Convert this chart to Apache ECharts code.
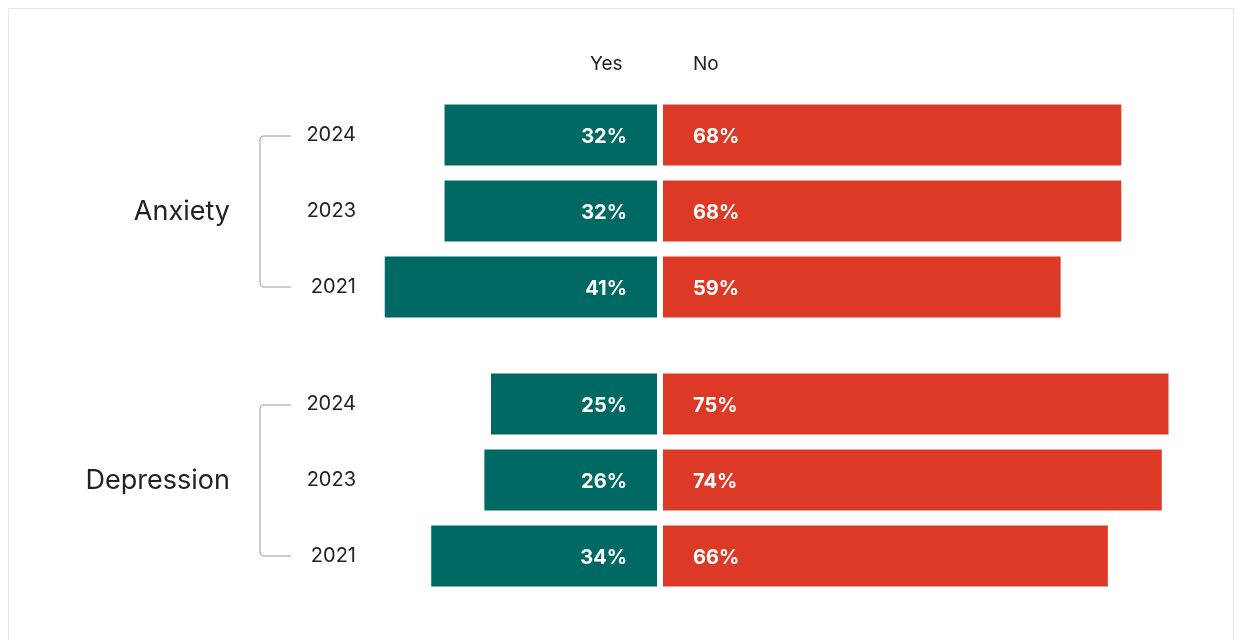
<!DOCTYPE html>
<html>
<head>
<meta charset="utf-8">
<script src="https://cdn.jsdelivr.net/npm/echarts@6/dist/echarts.min.js"></script>
<style>
  body { margin: 0; background: #fff; }
  .frame {
    position: absolute;
    left: 8px;
    top: 8px;
    width: 1226px;
    height: 660px;
    border: 1px solid #e6e6e6;
    box-sizing: border-box;
  }
  #chart { position: absolute; left: 0; top: 0; width: 1235px; height: 641px; }
</style>
</head>
<body>
<div class="frame"></div>
<div id="chart"></div>
<script>
// data
const years = ["2024", "2023", "2021"];
const groups = ["Anxiety", "Depression"];
const anxietyYes = [32, 32, 41];
const anxietyNo = [68, 68, 59];
const depressionYes = [25, 26, 34];
const depressionNo = [75, 74, 66];

const font = "Inter, 'Noto Sans', sans-serif";
const teal = "#006963";
const red = "#dc3a27";
const yesScale = 6.64;
const noScale = 6.74;

// grids: yes side ends at 657, no side starts at 663
const yesLeft = 370, yesRight = 1235 - 657;
const noLeft = 663, noRight = 36;
const yesMax = (1235 - yesRight - yesLeft) / yesScale;
const noMax = (1235 - noRight - noLeft) / noScale;
const groupTops = [97, 366];
const groupH = 228;

const myChart = echarts.init(document.getElementById("chart"));

const grid = [], xAxis = [], yAxis = [], series = [];
const groupData = [[anxietyYes, anxietyNo], [depressionYes, depressionNo]];

const barLabel = {
  show: true, distance: 30, offset: [0, 2], formatter: "{c}%",
  color: "#fff", fontSize: 20, fontWeight: "bold", fontFamily: font
};

groupData.forEach((pair, g) => {
  grid.push({ left: yesLeft, right: yesRight, top: groupTops[g], height: groupH });
  grid.push({ left: noLeft, right: noRight, top: groupTops[g], height: groupH });
  const gy = g * 2, gn = g * 2 + 1;
  xAxis.push({ gridIndex: gy, type: "value", min: 0, max: yesMax, inverse: true, show: false });
  xAxis.push({ gridIndex: gn, type: "value", min: 0, max: noMax, show: false });
  yAxis.push({
    gridIndex: gy, type: "category", data: years, inverse: true,
    axisLine: { show: false }, axisTick: { show: false },
    axisLabel: { margin: 14, fontSize: 20, color: "#222", fontFamily: font, padding: [4, 0, 0, 0] }
  });
  yAxis.push({ gridIndex: gn, type: "category", data: years, inverse: true, show: false });
  series.push({
    type: "bar", xAxisIndex: gy, yAxisIndex: gy, data: pair[0], barWidth: 61,
    itemStyle: { color: teal },
    label: Object.assign({ position: "insideRight" }, barLabel)
  });
  series.push({
    type: "bar", xAxisIndex: gn, yAxisIndex: gn, data: pair[1], barWidth: 61,
    itemStyle: { color: red },
    label: Object.assign({ position: "insideLeft" }, barLabel)
  });
});

// brackets and group labels
const graphic = [];
groupTops.forEach((t, g) => {
  const y1 = t + groupH / 6 + 1;
  const y2 = t + groupH * 5 / 6;
  graphic.push({
    type: "polyline",
    shape: {
      points: [[291, y1], [263, y1], [260.5, y1 + 1.5], [260, y1 + 4],
               [260, y2 - 4], [260.5, y2 - 1.5], [263, y2], [291, y2]]
    },
    style: { fill: null, stroke: "#9a9a9a", lineWidth: 1 }
  });
  graphic.push({
    type: "text", right: 1235 - 230, top: t + groupH / 2 - 13,
    style: { text: groups[g], fontSize: 27, fill: "#222", fontFamily: font }
  });
});
graphic.push({
  type: "text", left: 590, top: 55,
  style: { text: "Yes", fontSize: 19, fill: "#222", fontFamily: font }
});
graphic.push({
  type: "text", left: 693, top: 55,
  style: { text: "No", fontSize: 19, fill: "#222", fontFamily: font }
});

myChart.setOption({
  animation: false,
  grid: grid,
  xAxis: xAxis,
  yAxis: yAxis,
  series: series,
  graphic: graphic
});
</script>
</body>
</html>
